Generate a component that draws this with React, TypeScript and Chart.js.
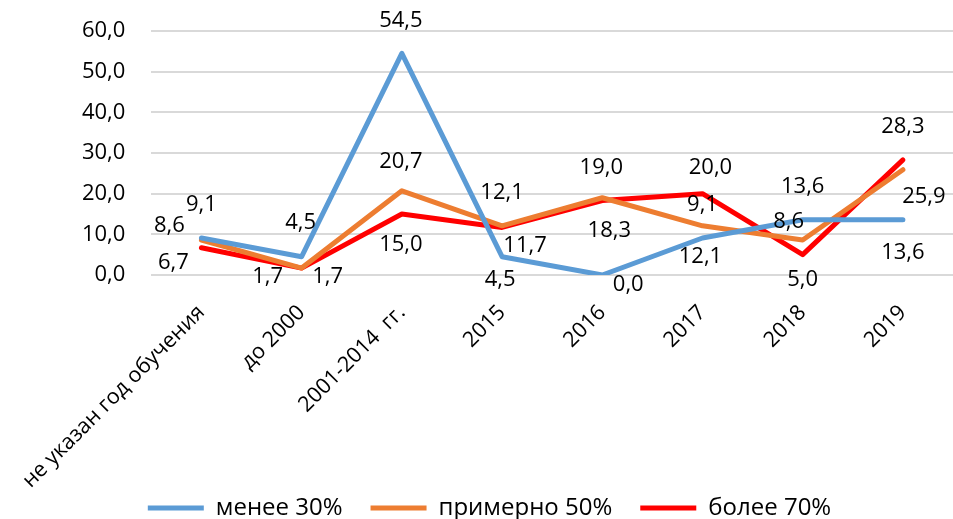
import React, { useEffect, useRef } from "react";
import { Chart, registerables } from "chart.js";

Chart.register(...registerables);

const CATEGORIES = [
  "не указан год обучения",
  "до 2000",
  "2001-2014  гг.",
  "2015",
  "2016",
  "2017",
  "2018",
  "2019",
];

const SERIES_NAMES = ["менее 30%", "примерно 50%", "более 70%"];

const LESS_30 = [9.1, 4.5, 54.5, 4.5, 0.0, 9.1, 13.6, 13.6];
const ABOUT_50 = [8.6, 1.7, 20.7, 12.1, 19.0, 12.1, 8.6, 25.9];
const MORE_70 = [6.7, 1.7, 15.0, 11.7, 18.3, 20.0, 5.0, 28.3];

const Y_TICK_LABELS = ["0,0", "10,0", "20,0", "30,0", "40,0", "50,0", "60,0"];

const COLORS = ["#5B9BD5", "#ED7D31", "#FF0000"];

// label offsets (dx, dy) relative to each point, in px
const LABEL_OFFSETS_LESS_30: [number, number][] = [
  [0, -33], [-1, -34], [-1, -33], [-2, 23], [26, 10], [0, -33], [0, -33], [0, 33],
];
const LABEL_OFFSETS_ABOUT_50: [number, number][] = [
  [-32, -14], [-34, 9], [-1, -29], [0, -33], [-1, -30], [-2, 31], [-14, -18], [21, 27],
];
const LABEL_OFFSETS_MORE_70: [number, number][] = [
  [-28, 15], [26, 9], [-1, 31], [23, 18], [7, 30], [8, -26], [0, 25], [0, -33],
];

const FONT = "'Open Sans', 'Noto Sans', sans-serif";

const fmt = (v: number) => v.toFixed(1).replace(".", ",");

const dataLabelPlugin = {
  id: "dataLabels",
  afterLayout(chart: any) {
    // let rotated category labels extend below the axis box without clipping
    const x = chart.scales.x;
    if (x) x.bottom = chart.height;
  },
  afterDatasetsDraw(chart: any) {
    const ctx = chart.ctx;
    const offsets = [LABEL_OFFSETS_LESS_30, LABEL_OFFSETS_ABOUT_50, LABEL_OFFSETS_MORE_70];
    ctx.save();
    ctx.font = `22px ${FONT}`;
    ctx.fillStyle = "#000";
    ctx.textAlign = "center";
    ctx.textBaseline = "middle";
    chart.data.datasets.forEach((ds: any, di: number) => {
      const meta = chart.getDatasetMeta(di);
      meta.data.forEach((pt: any, i: number) => {
        const [dx, dy] = offsets[di][i];
        ctx.fillText(fmt(ds.data[i]), pt.x + dx, pt.y + dy);
      });
    });
    ctx.restore();
  },
};

export default function App() {
  const ref = useRef<HTMLCanvasElement | null>(null);
  useEffect(() => {
    if (!ref.current) return;
    const series = [LESS_30, ABOUT_50, MORE_70];
    const chart = new Chart(ref.current, {
      type: "line",
      data: {
        labels: CATEGORIES,
        datasets: series.map((d, i) => ({
          label: SERIES_NAMES[i],
          data: d,
          borderColor: COLORS[i],
          backgroundColor: COLORS[i],
          borderWidth: 5,
          pointRadius: 0,
          pointHoverRadius: 0,
          tension: 0,
          borderCapStyle: "round" as const,
          borderJoinStyle: "round" as const,
        })),
      },
      options: {
        animation: false,
        responsive: false,
        maintainAspectRatio: false,
        layout: { padding: { top: 31, left: 26, right: 0, bottom: 0 } },
        plugins: {
          tooltip: { enabled: false },
          legend: {
            position: "bottom",
            labels: {
              usePointStyle: true,
              pointStyle: "line",
              pointStyleWidth: 56,
              color: "#000",
              padding: 28,
              font: { family: FONT, size: 24 },
            },
          },
        },
        scales: {
          x: {
            offset: true,
            grid: { display: false },
            border: { display: false },
            afterFit: (scale: any) => {
              scale.height = 193;
            },
            ticks: {
              minRotation: 45,
              maxRotation: 45,
              autoSkip: false,
              color: "#000",
              padding: 17,
              font: { family: FONT, size: 21.5 },
            },
          },
          y: {
            min: 0,
            max: 60,
            border: { display: false },
            grid: { color: "#d9d9d9", lineWidth: 2, drawTicks: false },
            afterFit: (scale: any) => {
              scale.width = 124;
              scale.paddingTop = 0;
              scale.paddingBottom = 0;
            },
            ticks: {
              stepSize: 10,
              padding: 26,
              color: "#000",
              font: { family: FONT, size: 22 },
              callback: (_v: any, idx: number) => Y_TICK_LABELS[idx],
            },
          },
        },
      },
      plugins: [dataLabelPlugin],
    });
    return () => chart.destroy();
  }, []);
  return (
    <div style={{ position: "absolute", left: 0, top: 0, width: 953, height: 519, overflow: "hidden", background: "#fff" }}>
      <canvas ref={ref} width={953} height={530} />
    </div>
  );
}
